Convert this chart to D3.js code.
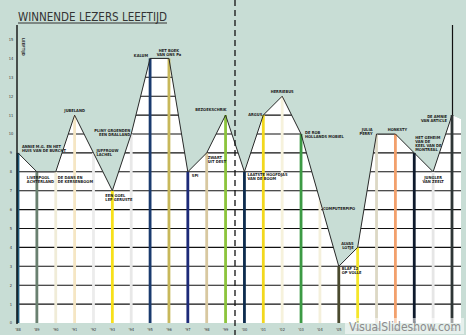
<!DOCTYPE html>
<meta charset="utf-8">
<style>
body{
  margin: 0px;
  background: #c8ddd5;
}
svg{
  display: block;
}
.lbl{
  font-family: "Liberation Sans Narrow", "DejaVu Sans Condensed", sans-serif;
  font-weight: bold;
  font-size: 4px;
  fill: #222;
}
.tick{
  font-family: "DejaVu Sans Condensed", sans-serif;
  font-size: 4px;
  fill: #333;
}
</style>
<body>
<div id='graph'></div>

<script src="https://cdn.jsdelivr.net/npm/d3@7"></script>
<script>

// data
var years = [1988, 1989, 1990, 1991, 1992, 1993, 1994, 1995, 1996, 1997, 1998, 1999,
             2000, 2001, 2002, 2003, 2004, 2005, 2006, 2007, 2008, 2009, 2010, 2011]
var ages = [9, 8, 8, 11, 9, 7, 10, 14, 14, 8, 9, 11,
            8, 11, 12, 10, 6.5, 3, 4, 10, 10, 9, 8, 11]
var yearLabels = years.map(function(d){ return "'" + String(d).slice(2) })
var yTicks = d3.range(0, 16)
var titles = [
  ['ANNIE M.G. EN HET', 'HUIS VAN DE BURCHT'],
  ['LIVERPOOL', 'ACHTERLAND'],
  ['DE DANS EN', 'DE KERSENBOOM'],
  ['JUBELAND'],
  ['JUFFROUW', 'LACHEL'],
  ['EEN GOEL', 'LEF GERUSTE'],
  ['PLINY GROENDEN', 'EEN DRALLAND'],
  ['KALUM'],
  ['HET BOEK', 'VAN ONS Pa'],
  ['SPI'],
  ['ZWART', 'UIT DEST'],
  ['BEZOEKSCHRIK'],
  ['LAATSTE HOOFDJAS', 'VAN DE BOOM'],
  ['ARGUS'],
  ['HERRIEBUS'],
  ['DE ROB', 'HOLLANDS MOBIEL'],
  ['COMPUTERPIPO'],
  ['BLAF 12', 'OP VOLLE'],
  ['ALVAS', 'LOTJE'],
  ['JULIA', 'PERRY'],
  ['HONKSTY'],
  ['HET GEHEIM', 'VAN DE', 'KEEL VAN DE', 'MONTREAL'],
  ['JUNGLER', 'VAN ZEELT'],
  ['DE AMNIE', 'VAN ARTICLE']
]
var barColors = ['#1e5a7a', '#6a8070', '#f0ecd8', '#f5e6c4', '#ececec', '#f7e01a',
                 '#e8e8e8', '#1a3a6e', '#c8b85a', '#1c2a78', '#d8c8a0', '#8cc43c',
                 '#0e2c4e', '#f2d81e', '#f6f2dc', '#3c9a44', '#f4f0dc', '#4a4a2e',
                 '#f5e62a', '#dcd8c4', '#f2a06c', '#0e1a2c', '#e6e6e6', '#2e3636']

// label placement: [dx, dy of first line, text-anchor]
var labelPos = [
  [4, -5, 'start'], [-10, 7, 'start'], [2, 7, 'start'], [0, -3, 'middle'],
  [3, -1, 'start'], [-7, 6, 'start'], [-1, -2, 'end'], [-2, -1, 'end'],
  [0, -6, 'middle'], [4, 5, 'start'], [1, 6, 'start'], [1, -4, 'end'],
  [3, 4, 'start'], [-1, 1, 'end'], [0, -3, 'middle'], [4, 0, 'start'],
  [3, 10, 'start'], [3, 4, 'start'], [-4, -2, 'end'], [-4, -3, 'end'],
  [2, -3, 'middle'], [1, -14, 'start'], [0, 7, 'middle'], [-5, 3, 'end']
]

var width = 466, height = 335

var x = d3.scaleLinear().domain([1988, 2011]).range([18, 452])
var y = d3.scaleLinear().domain([0, 15]).range([323, 39.5])

var svg = d3.select('#graph').append('svg')
    .attr('width', width).attr('height', height)

svg.append('rect')
    .attr('width', width).attr('height', height)
    .attr('fill', '#c8ddd5')

var pts = years.map(function(d, i){ return [x(d), y(ages[i])] })
var last = pts[pts.length - 1]

var areaPts = [[17, y(0)], [17, pts[0][1]]].concat(pts)
    .concat([[last[0] + 9, last[1] + 4], [last[0] + 9, y(0)]])

svg.append('clipPath').attr('id', 'under')
  .append('path')
    .attr('d', 'M' + areaPts.join('L') + 'Z')

var under = svg.append('g').attr('clip-path', 'url(#under)')

under.append('path')
    .attr('d', 'M' + areaPts.join('L') + 'Z')
    .attr('fill', '#fff')

// grid lines only inside the white area
under.selectAll('.grid')
    .data(d3.range(1, 15))
  .enter().append('line')
    .attr('x1', 17).attr('x2', width)
    .attr('y1', function(d){ return y(d) })
    .attr('y2', function(d){ return y(d) })
    .attr('stroke', '#111')
    .attr('stroke-width', 1.1)

// coloured bars
svg.selectAll('.bar')
    .data(years)
  .enter().append('rect')
    .attr('x', function(d){ return x(d) - 1.4 })
    .attr('width', 2.8)
    .attr('y', function(d, i){ return y(ages[i]) })
    .attr('height', function(d, i){ return y(0) - y(ages[i]) })
    .attr('fill', function(d, i){ return barColors[i] })

// outline of the curve
svg.append('path')
    .attr('d', d3.line()(pts))
    .attr('fill', 'none')
    .attr('stroke', '#2a2a2a')
    .attr('stroke-width', 1)

svg.append('line')
    .attr('x1', 17).attr('x2', 17).attr('y1', 25).attr('y2', y(0) + 1)
    .attr('stroke', '#111').attr('stroke-width', 1.4)

svg.append('line')
    .attr('x1', last[0] + 0.5).attr('x2', last[0] + 0.5).attr('y1', 25).attr('y2', last[1])
    .attr('stroke', '#111').attr('stroke-width', 1.2)

// dashed divider between '99 and '00
svg.append('line')
    .attr('x1', 235).attr('x2', 235).attr('y1', 0).attr('y2', height)
    .attr('stroke', '#111').attr('stroke-width', 1.3)
    .attr('stroke-dasharray', '6,4')

// y ticks
svg.selectAll('.ytick')
    .data(yTicks)
  .enter().append('text')
    .attr('class', 'tick')
    .attr('x', 11).attr('y', function(d){ return y(d) + 1.4 })
    .attr('text-anchor', 'middle')
    .text(function(d){ return d })

svg.append('text')
    .attr('class', 'tick')
    .attr('transform', 'translate(21.5,38) rotate(90)')
    .style('font-weight', 'bold')
    .text('LEEFTIJD')

// x ticks
svg.selectAll('.xtick')
    .data(years)
  .enter().append('text')
    .attr('class', 'tick')
    .attr('x', function(d){ return x(d) }).attr('y', 331)
    .attr('text-anchor', 'middle')
    .text(function(d, i){ return yearLabels[i] })

// book titles
var lbl = svg.selectAll('.lbl')
    .data(titles)
  .enter().append('text')
    .attr('class', 'lbl')
    .attr('text-anchor', function(d, i){ return labelPos[i][2] })
    .attr('transform', function(d, i){
      return 'translate(' + (pts[i][0] + labelPos[i][0]) + ',' + (pts[i][1] + labelPos[i][1]) + ')'
    })

lbl.selectAll('tspan')
    .data(function(d){ return d })
  .enter().append('tspan')
    .attr('x', 0)
    .attr('dy', function(d, j){ return j ? 4 : 0 })
    .text(function(d){ return d })

// title
svg.append('text')
    .attr('x', 18).attr('y', 20.5)
    .attr('textLength', 149).attr('lengthAdjust', 'spacingAndGlyphs')
    .style('font-family', '"DejaVu Sans Condensed", sans-serif')
    .style('font-size', '11.5px')
    .attr('fill', '#333')
    .text('WINNENDE LEZERS LEEFTIJD')

svg.append('line')
    .attr('x1', 18).attr('x2', 167).attr('y1', 23).attr('y2', 23)
    .attr('stroke', '#333').attr('stroke-width', 1)

// watermark
svg.append('rect')
    .attr('x', 345).attr('y', 318).attr('width', 119).attr('height', 16)
    .attr('fill', '#fff').attr('opacity', 0.55)

svg.append('text')
    .attr('x', 349).attr('y', 331)
    .attr('textLength', 112).attr('lengthAdjust', 'spacingAndGlyphs')
    .style('font-family', '"DejaVu Sans", sans-serif')
    .style('font-size', '13px')
    .attr('fill', '#8c8c8c')
    .text('VisualSlideshow.com')

</script>
